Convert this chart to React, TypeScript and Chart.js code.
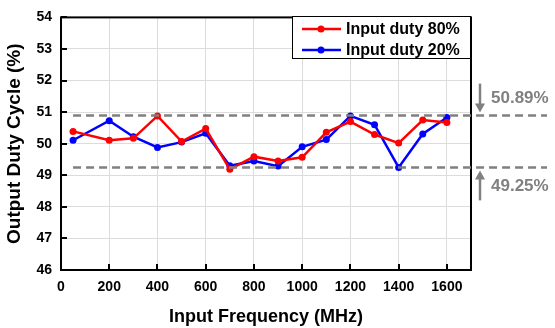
import React, { useEffect, useRef } from "react";
import { Chart, registerables } from "chart.js";
Chart.register(...registerables);

const freqs = [50, 200, 300, 400, 500, 600, 700, 800, 900, 1000, 1100, 1200, 1300, 1400, 1500, 1600];
const duty80 = [50.39, 50.11, 50.17, 50.88, 50.07, 50.48, 49.19, 49.59, 49.45, 49.57, 50.36, 50.7, 50.29, 50.02, 50.75, 50.67];
const duty20 = [50.11, 50.73, 50.22, 49.88, 50.05, 50.33, 49.3, 49.45, 49.29, 49.9, 50.13, 50.88, 50.6, 49.25, 50.31, 50.83];
const refLines = [50.89, 49.25];
const refLabels = ["50.89%", "49.25%"];
const seriesNames = ["Input duty 80%", "Input duty 20%"];
const seriesColors = ["#ff0000", "#0000ff"];
const xTicks = [0, 200, 400, 600, 800, 1000, 1200, 1400, 1600];

const FONT = "'Liberation Sans', Arial, sans-serif";
const GRAY = "#808080";

const overlay = {
  id: "overlay",
  afterDraw(chart: any) {
    const { ctx, chartArea: a, scales } = chart;
    const xs = scales.x, ys = scales.y;
    ctx.save();
    // inward ticks
    ctx.strokeStyle = "#000";
    ctx.lineWidth = 2;
    for (const v of xTicks) {
      const px = Math.round(xs.getPixelForValue(v));
      ctx.beginPath();
      ctx.moveTo(px, a.bottom);
      ctx.lineTo(px, a.bottom - 6);
      ctx.stroke();
    }
    for (let v = 46; v <= 54; v++) {
      const py = Math.round(ys.getPixelForValue(v));
      ctx.beginPath();
      ctx.moveTo(a.left, py);
      ctx.lineTo(a.left + 6, py);
      ctx.stroke();
    }
    // border box
    ctx.lineWidth = 2;
    ctx.strokeRect(a.left, a.top, a.right - a.left, a.bottom - a.top);
    // reference dashed lines
    ctx.strokeStyle = GRAY;
    ctx.lineWidth = 2.5;
    ctx.setLineDash([8, 5]);
    for (const v of refLines) {
      const py = ys.getPixelForValue(v);
      ctx.beginPath();
      ctx.moveTo(xs.getPixelForValue(freqs[0]), py);
      ctx.lineTo(547, py);
      ctx.stroke();
    }
    ctx.setLineDash([]);
    // arrows
    const ax = 480;
    const yTop = ys.getPixelForValue(refLines[0]);
    const yBot = ys.getPixelForValue(refLines[1]);
    ctx.fillStyle = GRAY;
    ctx.lineWidth = 2.5;
    ctx.beginPath();
    ctx.moveTo(ax, yTop - 32);
    ctx.lineTo(ax, yTop - 10);
    ctx.stroke();
    ctx.beginPath();
    ctx.moveTo(ax - 5, yTop - 12);
    ctx.lineTo(ax + 5, yTop - 12);
    ctx.lineTo(ax, yTop - 3);
    ctx.closePath();
    ctx.fill();
    ctx.beginPath();
    ctx.moveTo(ax, yBot + 10);
    ctx.lineTo(ax, yBot + 33);
    ctx.stroke();
    ctx.beginPath();
    ctx.moveTo(ax - 5, yBot + 12);
    ctx.lineTo(ax + 5, yBot + 12);
    ctx.lineTo(ax, yBot + 3);
    ctx.closePath();
    ctx.fill();
    ctx.font = `bold 17px ${FONT}`;
    ctx.textAlign = "left";
    ctx.textBaseline = "middle";
    ctx.fillText(refLabels[0], 491, yTop - 17);
    ctx.fillText(refLabels[1], 491, yBot + 19);
    // legend
    const lx0 = 292, ly0 = 16, lx1 = a.right - 1, ly1 = 58;
    ctx.fillStyle = "#fff";
    ctx.fillRect(lx0, ly0, lx1 - lx0, ly1 - ly0);
    ctx.strokeStyle = "#000";
    ctx.lineWidth = 1;
    ctx.strokeRect(lx0 + 0.5, ly0 + 0.5, lx1 - lx0, ly1 - ly0);
    ctx.font = `bold 16px ${FONT}`;
    seriesNames.forEach((name, i) => {
      const cy = 29 + i * 21;
      ctx.strokeStyle = seriesColors[i];
      ctx.fillStyle = seriesColors[i];
      ctx.lineWidth = 2.5;
      ctx.beginPath();
      ctx.moveTo(302, cy);
      ctx.lineTo(341, cy);
      ctx.stroke();
      ctx.beginPath();
      ctx.arc(321, cy, 3.5, 0, Math.PI * 2);
      ctx.fill();
      ctx.fillStyle = "#000";
      ctx.fillText(name, 346, cy + 1);
    });
    ctx.restore();
  },
};

export default function App() {
  const ref = useRef<HTMLCanvasElement>(null);
  useEffect(() => {
    if (!ref.current) return;
    const mk = (i: number, data: number[]) => ({
      label: seriesNames[i],
      data: freqs.map((f, k) => ({ x: f, y: data[k] })),
      borderColor: seriesColors[i],
      backgroundColor: seriesColors[i],
      borderWidth: 2.5,
      pointRadius: 3.5,
      pointBorderWidth: 0,
      tension: 0,
    });
    const chart = new Chart(ref.current, {
      type: "line",
      data: { datasets: [mk(0, duty80), mk(1, duty20)] },
      options: {
        animation: false,
        responsive: false,
        maintainAspectRatio: false,
        layout: { padding: { top: 13, right: 84, left: 0, bottom: 0 } },
        plugins: { legend: { display: false }, tooltip: { enabled: false } },
        scales: {
          x: {
            type: "linear",
            min: 0,
            max: 1700,
            afterBuildTicks: (s: any) => {
              s.ticks = xTicks.map((v) => ({ value: v }));
            },
            afterFit: (s: any) => {
              s.height = 58;
            },
            grid: { color: "#dcdcdc", lineWidth: 1, drawTicks: false },
            border: { display: false },
            ticks: {
              padding: 9,
              color: "#000",
              font: { family: FONT, size: 14, weight: "bold" },
              maxRotation: 0,
              autoSkip: false,
              callback: (v: any) => String(v),
            },
            title: {
              display: true,
              text: "Input Frequency (MHz)",
              color: "#000",
              font: { family: FONT, size: 18, weight: "bold" },
              padding: { top: 4, bottom: 0 },
            },
          },
          y: {
            min: 46,
            max: 54,
            afterFit: (s: any) => {
              s.width = 61;
            },
            grid: { color: "#dcdcdc", lineWidth: 1, drawTicks: false },
            border: { display: false },
            ticks: {
              stepSize: 1,
              padding: 9,
              color: "#000",
              font: { family: FONT, size: 14, weight: "bold" },
              callback: (v: any) => String(v),
            },
            title: {
              display: true,
              text: "Output Duty Cycle (%)",
              color: "#000",
              font: { family: FONT, size: 19, weight: "bold" },
              padding: { top: 3, bottom: 4 },
            },
          },
        },
      } as any,
      plugins: [overlay],
    });
    return () => chart.destroy();
  }, []);
  return (
    <div style={{ position: "fixed", left: 0, top: 0, width: 555, height: 328, background: "#fff" }}>
      <canvas ref={ref} width={555} height={328} style={{ width: 555, height: 328 }} />
    </div>
  );
}
